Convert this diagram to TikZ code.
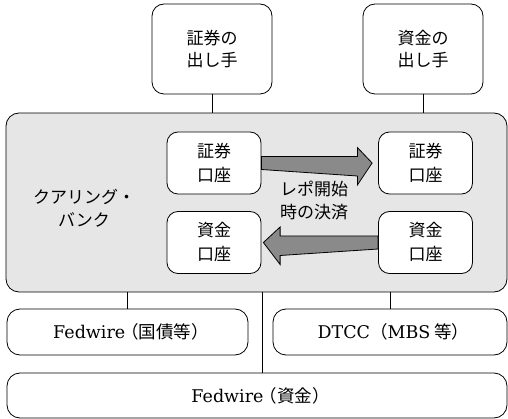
\documentclass[tikz,border=0pt]{standalone}
\usepackage{fontspec}
\setmainfont{DejaVu Serif}
\newfontfamily\jp{Noto Sans CJK JP}
\usetikzlibrary{calc}
\definecolor{bankgray}{HTML}{E6E6E6}
\definecolor{arrowgray}{HTML}{8A8A8A}
\newcommand{\jpo}{\kern-4pt{\jp （}}
\newcommand{\jpc}{{\jp ）}\kern-7pt}
\tikzset{
  box/.style={draw=black, line width=0.8pt, rounded corners=12pt, fill=white, align=center,
    font=\fontsize{17}{22}\selectfont\jp, inner sep=0pt},
  acct/.style={box, rounded corners=11pt, minimum width=94pt, minimum height=62pt,
    font=\fontsize{17}{24}\selectfont\jp},
  wide/.style={box, rounded corners=13pt, font=\fontsize{17.5}{22}\selectfont},
  link/.style={draw=black, line width=0.8pt},
  fatarrow/.style={draw=black, line width=0.8pt, fill=arrowgray},
  lbl/.style={align=center, inner sep=0pt, font=\fontsize{17}{23}\selectfont\jp}
}
\begin{document}
\begin{tikzpicture}[x=1pt,y=-1pt]
\useasboundingbox (0,0) rectangle (508,419);
% top parties
\node[box, minimum width=120pt, minimum height=90pt] (sec) at (212,49) {証券の\\出し手};
\node[box, minimum width=120pt, minimum height=90pt] (cash) at (423,49) {資金の\\出し手};
% clearing bank
\node[draw=black, line width=0.8pt, fill=bankgray, rounded corners=13pt,
      minimum width=501pt, minimum height=179pt, inner sep=0pt] (bank) at (256.5,202.5) {};
\node[lbl, align=center] (banklbl) at (84,208) {クアリング・\\バンク};
% accounts
\node[acct] (secL) at (214,163) {証券\\口座};
\node[acct] (secR) at (425.5,163) {証券\\口座};
\node[acct] (cashL) at (214,242.5) {資金\\口座};
\node[acct] (cashR) at (425.5,242.5) {資金\\口座};
\node[lbl] (repo) at (314,201) {レポ開始\\時の決済};
% fat arrows
\path[fatarrow] (secL.east) ++(0,-6.5) -- ++(96,0) -- ++(0,-9) -- ($(secR.west)+(-6,0)$)
   -- ($(secL.east)+(96,22)$) -- ++(0,-9) -- ($(secL.east)+(0,6.5)$) -- cycle;
\path[fatarrow] (cashR.west) ++(0,-6.5) -- ++(-98,0) -- ++(0,-9) -- ($(cashL.east)+(2,0)$)
   -- ($(cashR.west)+(-98,22)$) -- ++(0,-9) -- ($(cashR.west)+(0,6.5)$) -- cycle;
% bottom systems
\node[wide, minimum width=241pt, minimum height=46pt] (fedsec) at (127.5,332) {Fedwire\jpo{\jp 国債等}\jpc};
\node[wide, minimum width=234pt, minimum height=46pt] (dtcc) at (390,332) {DTCC{\jp （}MBS\kern4pt{\jp 等}\jpc};
\node[wide, minimum width=500pt, minimum height=45pt] (fedcash) at (257,395.5) {Fedwire\jpo{\jp 資金}\jpc};
\coordinate (mid) at (262,0);
% links
\draw[link] (sec.south) -- (sec.south |- bank.north);
\draw[link] (cash.south) -- (cash.south |- bank.north);
\draw[link] (bank.south -| fedsec.north) -- (fedsec.north);
\draw[link] (bank.south -| dtcc.north) -- (dtcc.north);
\draw[link] (bank.south -| mid) -- (fedcash.north -| mid);
\end{tikzpicture}
\end{document}
